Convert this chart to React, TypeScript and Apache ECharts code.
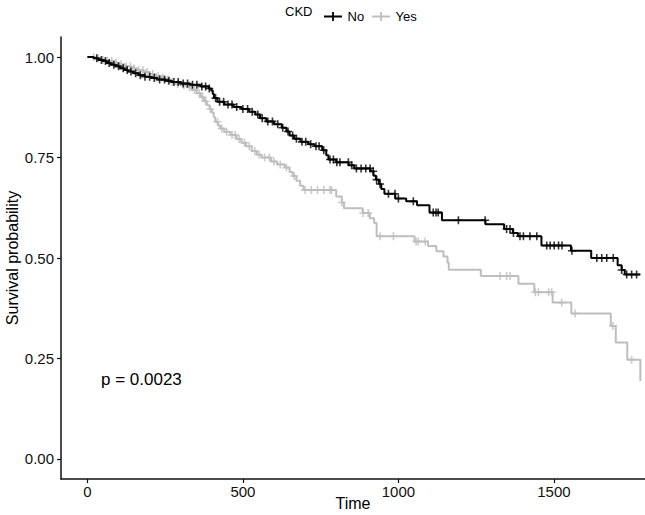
import React, { useEffect, useRef } from "react";
import * as echarts from "echarts";

// Kaplan-Meier step points [time, survival]
const noCurve: [number, number][] = [
  [0, 1.0], [20, 0.997], [35, 0.993], [50, 0.99], [62, 0.985], [75, 0.981], [90, 0.977], [105, 0.972],
  [118, 0.968], [130, 0.964], [148, 0.96], [165, 0.955], [185, 0.951], [205, 0.948], [225, 0.944],
  [250, 0.941], [270, 0.938], [300, 0.934], [330, 0.931], [365, 0.927], [390, 0.922], [398, 0.917],
  [403, 0.908], [407, 0.898], [418, 0.889], [440, 0.882], [470, 0.876], [495, 0.871], [520, 0.864],
  [540, 0.857], [555, 0.848], [575, 0.84], [600, 0.833], [625, 0.824], [640, 0.815], [650, 0.805],
  [665, 0.797], [685, 0.789], [710, 0.783], [730, 0.778], [755, 0.768], [768, 0.756], [775, 0.745],
  [800, 0.738], [840, 0.731], [858, 0.723], [910, 0.716], [920, 0.705], [928, 0.695], [938, 0.684],
  [945, 0.672], [955, 0.66], [990, 0.648], [1025, 0.641], [1060, 0.631], [1100, 0.613], [1140, 0.594],
  [1280, 0.584], [1340, 0.572], [1368, 0.562], [1385, 0.554], [1460, 0.531], [1555, 0.518],
  [1620, 0.5], [1705, 0.482], [1718, 0.47], [1728, 0.459], [1777, 0.459],
];

const yesCurve: [number, number][] = [
  [0, 1.0], [25, 0.997], [45, 0.993], [60, 0.99], [80, 0.986], [100, 0.982], [120, 0.977], [140, 0.972],
  [160, 0.967], [180, 0.963], [200, 0.958], [220, 0.953], [235, 0.949], [250, 0.944], [265, 0.938],
  [280, 0.933], [300, 0.93], [320, 0.925], [335, 0.918], [352, 0.91], [365, 0.9], [375, 0.89],
  [384, 0.88], [393, 0.871], [400, 0.862], [406, 0.85], [411, 0.839], [420, 0.83], [427, 0.822],
  [440, 0.814], [460, 0.806], [480, 0.796], [495, 0.787], [510, 0.778], [528, 0.766], [545, 0.757],
  [560, 0.75], [590, 0.74], [610, 0.733], [635, 0.725], [650, 0.714], [660, 0.704], [672, 0.692],
  [684, 0.68], [695, 0.669], [800, 0.653], [818, 0.638], [825, 0.624], [885, 0.612], [908, 0.599],
  [922, 0.587], [930, 0.554], [1052, 0.541], [1095, 0.53], [1122, 0.517], [1145, 0.504], [1158, 0.488],
  [1162, 0.471], [1265, 0.455], [1386, 0.436], [1437, 0.415], [1496, 0.389], [1556, 0.362],
  [1683, 0.331], [1699, 0.29], [1736, 0.247], [1778, 0.194],
];

// censoring times
const noCensor: number[] = [
  30, 45, 58, 70, 85, 100, 115, 128, 140, 155, 170, 185, 200, 215, 232, 248, 262, 278, 292, 308, 322,
  338, 352, 368, 380, 392, 412, 425, 438, 452, 465, 480, 500, 515, 530, 548, 562, 580, 595, 612, 628,
  645, 660, 672, 690, 702, 718, 735, 745, 760, 780, 791, 802, 812, 839, 850, 865, 880, 895, 909, 919,
  930, 941, 968, 989, 1000, 1048, 1112, 1121, 1128, 1193, 1279, 1348, 1359, 1370, 1391, 1402, 1423,
  1445, 1477, 1488, 1501, 1515, 1526, 1558, 1638, 1654, 1670, 1691, 1718, 1734, 1750, 1766,
];
const yesCensor: number[] = [
  20, 35, 50, 65, 78, 92, 108, 125, 138, 150, 165, 178, 192, 210, 228, 242, 258, 272, 290, 310, 328,
  345, 360, 370, 380, 395, 418, 432, 448, 465, 475, 488, 505, 520, 538, 552, 570, 585, 600, 620, 640,
  665, 700, 720, 740, 760, 780, 785, 818, 887, 903, 941, 984, 1057, 1064, 1086, 1327, 1348, 1359,
  1440, 1450, 1483, 1493, 1525, 1568, 1690, 1750,
];

const groups = ["No", "Yes"];
const xTicks = [0, 500, 1000, 1500];
const yTicks = [0, 0.25, 0.5, 0.75, 1];
const pText = "p = 0.0023";

function survAt(curve: [number, number][], t: number): number {
  let v = curve[0][1];
  for (const [ct, cv] of curve) {
    if (ct <= t) v = cv;
    else break;
  }
  return v;
}

const PLUS = "path://M4,0L6,0L6,10L4,10Z M0,4L10,4L10,6L0,6Z";
const LEG_ICON = "path://M0,4L20,4L20,6L0,6Z M9,0L11,0L11,10L9,10Z";
const COLORS = ["#000000", "#BEBEBE"];
const FONT = "Liberation Sans, Arial, sans-serif";

export default function App() {
  const ref = useRef<HTMLDivElement>(null);
  useEffect(() => {
    document.body.style.margin = "0";
    if (!ref.current) return;
    const chart = echarts.init(ref.current, undefined, { renderer: "svg" });
    const curves = [noCurve, yesCurve];
    const censors = [noCensor, yesCensor];
    const series: any[] = [];
    groups.forEach((g, i) => {
      series.push({
        name: g,
        type: "line",
        step: "end",
        data: curves[i],
        showSymbol: false,
        symbol: "none",
        lineStyle: { color: COLORS[i], width: 2 },
        itemStyle: { color: COLORS[i] },
        z: 3 - i,
      });
      series.push({
        name: g + " censored",
        type: "scatter",
        data: censors[i].map((t) => [t, survAt(curves[i], t)]),
        symbol: PLUS,
        symbolSize: 8,
        itemStyle: { color: COLORS[i] },
        z: 3 - i,
      });
    });
    chart.setOption({
      animation: false,
      textStyle: { fontFamily: FONT },
      grid: { left: 61, right: 0, top: 37, bottom: 36, containLabel: false, outerBoundsMode: "none" },
      legend: {
        data: groups.map((g) => ({ name: g, icon: LEG_ICON })),
        left: 319,
        top: 5,
        itemWidth: 19,
        itemHeight: 9,
        itemGap: 8,
        textStyle: { fontSize: 13, color: "#000", fontFamily: FONT },
      },
      graphic: [
        {
          type: "text",
          left: 285,
          top: 5,
          style: { text: "CKD", fontSize: 13, fill: "#000", fontFamily: FONT },
        },
        {
          type: "text",
          left: 101,
          top: 371,
          style: { text: pText, fontSize: 17, fill: "#000", fontFamily: FONT },
        },
      ],
      xAxis: {
        type: "value",
        min: -85,
        max: 1793,
        name: "Time",
        nameLocation: "middle",
        nameGap: 16,
        nameMoveOverlap: false,
        nameTextStyle: { fontSize: 16, color: "#000", fontFamily: FONT },
        axisLine: { show: true, onZero: false, lineStyle: { color: "#111", width: 1.5 } },
        axisTick: { show: true, length: 4, customValues: xTicks, lineStyle: { color: "#111", width: 1.2 } },
        axisLabel: {
          customValues: xTicks,
          fontSize: 15,
          color: "#111",
          margin: 5,
          fontFamily: FONT,
          formatter: (v: number) => String(v),
        },
        splitLine: { show: false },
      },
      yAxis: {
        type: "value",
        min: -0.05,
        max: 1.05,
        name: "Survival probability",
        nameLocation: "middle",
        nameGap: 41,
        nameMoveOverlap: false,
        nameTextStyle: { fontSize: 16, color: "#000", fontFamily: FONT },
        axisLine: { show: true, onZero: false, lineStyle: { color: "#111", width: 1.5 } },
        axisTick: { show: true, length: 4, customValues: yTicks, lineStyle: { color: "#111", width: 1.2 } },
        axisLabel: {
          customValues: yTicks,
          fontSize: 15,
          color: "#111",
          margin: 7,
          fontFamily: FONT,
          formatter: (v: number) => v.toFixed(2),
        },
        splitLine: { show: false },
      },
      series,
    });
    return () => chart.dispose();
  }, []);
  return (
    <div
      ref={ref}
      style={{ position: "fixed", left: 0, top: 0, width: 645, height: 515, background: "#fff" }}
    />
  );
}
